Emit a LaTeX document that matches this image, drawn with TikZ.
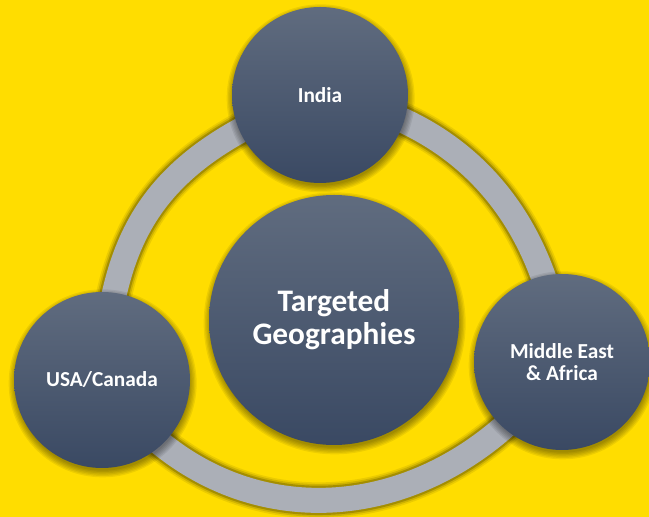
\documentclass[tikz,border=0pt]{standalone}
\usepackage{fontspec}
\setmainfont{Carlito}

\definecolor{bgYellow}{RGB}{255,221,0}
\definecolor{discTop}{RGB}{96,108,127}
\definecolor{discBot}{RGB}{58,73,99}
\definecolor{ringGray}{RGB}{171,175,183}

\pgfdeclarelayer{bgLayer}
\pgfdeclarelayer{ringLayer}
\pgfdeclarelayer{shadeLayer}
\pgfsetlayers{bgLayer,ringLayer,shadeLayer,main}

\tikzset{
  regionDisc/.style={circle, inner sep=0pt, minimum size=132pt,
    top color=discTop, bottom color=discBot, text=white, align=center,
    font=\bfseries\fontsize{16}{17}\selectfont},
  hubDisc/.style={regionDisc, minimum size=187.5pt,
    font=\bfseries\fontsize{23.5}{24.75}\selectfont},
}

\newcommand{\ringTrack}{(india.center)
  .. controls +(200:191) and +(85:137) .. (usaCanada.center)
  .. controls +(-55:210) and +(235:210) .. (midEast.center)
  .. controls +(95:66) and +(350:204) .. (india.center)}

\begin{document}
\begin{tikzpicture}[x=0.75pt, y=0.75pt]
\useasboundingbox (0, 0) rectangle (649, 517);
\begin{pgfonlayer}{bgLayer}
\fill[bgYellow] (0, 0) rectangle (649, 517);
\end{pgfonlayer}

\node[regionDisc] (india) at (320, 422) {India};
\node[regionDisc] (usaCanada) at (102, 137) {USA/Canada};
\node[regionDisc] (midEast) at (562, 155) {Middle East\\\& Africa};
\node[hubDisc] (hub) at (334, 197) {Targeted\\Geographies};

\begin{pgfonlayer}{shadeLayer}
\foreach \nm/\rad in {india/66, usaCanada/66, midEast/66, hub/93.75}
  \foreach \k in {1,...,6}
    \fill[black, opacity=0.07] ([xshift=0.5pt, yshift=-2.5pt]\nm.center)
      circle[radius={\rad pt + \k pt - 1.5pt}];
\end{pgfonlayer}

\begin{pgfonlayer}{ringLayer}
\foreach \wd/\op in {27/0.08, 24.5/0.12, 22/0.2}
  \draw[line width=\wd pt, line join=round, black, opacity=\op, yshift=-2pt] \ringTrack;
\draw[line width=18.75pt, line join=round, ringGray] \ringTrack;
\end{pgfonlayer}
\end{tikzpicture}
\end{document}
